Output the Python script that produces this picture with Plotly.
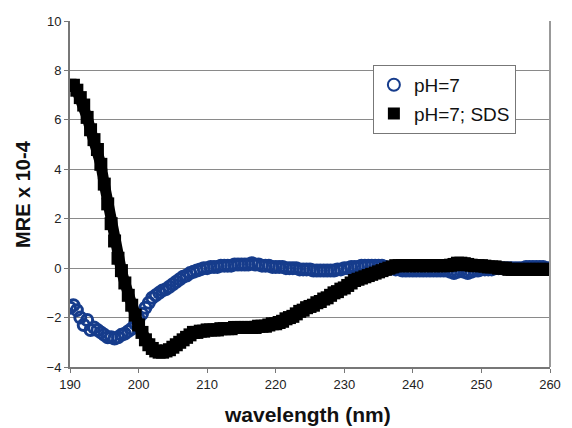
import plotly.graph_objects as go

# wavelength sampling (nm), 0.5 nm steps 190..260
wavelength = [190 + 0.5 * i for i in range(141)]

ph7 = [
    -1.6, -1.5, -1.7, -2.0, -2.3, -2.1, -2.5, -2.4, -2.5, -2.6,
    -2.7, -2.8, -2.8, -2.85, -2.8, -2.7, -2.65, -2.55, -2.45, -2.25,
    -2.05, -1.85, -1.6, -1.4, -1.2, -1.1, -1.0, -0.9, -0.85, -0.75,
    -0.65, -0.55, -0.45, -0.35, -0.3, -0.2, -0.15, -0.1, -0.05, 0.0,
    0.0, 0.05, 0.05, 0.05, 0.1, 0.1, 0.1, 0.1, 0.15, 0.15,
    0.15, 0.15, 0.15, 0.2, 0.15, 0.15, 0.1, 0.1, 0.1, 0.05,
    0.05, 0.05, 0.05, 0.0, 0.0, 0.0, 0.0, -0.05, -0.05, -0.05,
    -0.05, -0.1, -0.1, -0.1, -0.1, -0.1, -0.1, -0.1, -0.05, -0.05,
    0.0, 0.0, 0.05, 0.05, 0.05, 0.1, 0.1, 0.1, 0.1, 0.1,
    0.1, 0.1, 0.05, 0.0, 0.0, -0.05, -0.05, -0.1, -0.1, -0.1,
    -0.1, -0.1, -0.1, -0.1, -0.1, -0.1, -0.1, -0.1, -0.1, -0.1,
    -0.1, -0.15, -0.2, -0.15, -0.1, -0.15, -0.2, -0.15, -0.1, -0.1,
    -0.05, -0.05, -0.05, -0.05, 0.0, 0.0, 0.0, 0.0, 0.0, 0.0,
    0.0, 0.0, 0.0, 0.05, 0.05, 0.05, 0.05, 0.05, 0.05, 0.0,
    0.0,
]

ph7_sds = [
    7.4, 7.4, 7.2, 6.9, 6.6, 6.1, 5.6, 5.2, 4.8, 4.2,
    3.4, 2.6, 1.8, 1.1, 0.4, -0.1, -0.6, -1.1, -1.5, -1.9,
    -2.3, -2.6, -2.9, -3.1, -3.25, -3.35, -3.4, -3.4, -3.35, -3.3,
    -3.2, -3.1, -3.0, -2.9, -2.8, -2.7, -2.6, -2.6, -2.55, -2.55,
    -2.5, -2.5, -2.5, -2.5, -2.45, -2.45, -2.45, -2.45, -2.4, -2.4,
    -2.4, -2.4, -2.4, -2.4, -2.4, -2.35, -2.35, -2.35, -2.3, -2.25,
    -2.25, -2.2, -2.15, -2.05, -2.0, -1.95, -1.85, -1.75, -1.7, -1.6,
    -1.55, -1.5, -1.4, -1.35, -1.25, -1.2, -1.1, -1.0, -0.95, -0.85,
    -0.8, -0.7, -0.6, -0.5, -0.45, -0.4, -0.35, -0.3, -0.25, -0.2,
    -0.15, -0.1, -0.05, 0.0, 0.05, 0.1, 0.1, 0.1, 0.1, 0.1,
    0.1, 0.1, 0.1, 0.1, 0.1, 0.1, 0.1, 0.1, 0.1, 0.1,
    0.1, 0.12, 0.15, 0.2, 0.2, 0.18, 0.15, 0.12, 0.1, 0.1,
    0.1, 0.08, 0.05, 0.05, 0.05, 0.0, 0.0, 0.0, -0.05, -0.05,
    -0.05, -0.05, -0.05, -0.05, -0.05, -0.05, -0.05, -0.05, -0.05, -0.05,
    -0.05,
]

x_ticks = [190, 200, 210, 220, 230, 240, 250, 260]
y_ticks = [-4, -2, 0, 2, 4, 6, 8, 10]

BLUE = "#163c8c"
FONT = "Liberation Sans, Arial, sans-serif"

fig = go.Figure()
fig.add_trace(go.Scatter(
    x=wavelength, y=ph7, mode="markers", name="pH=7", legendgroup="a",
    marker=dict(symbol="circle-open", size=11, color=BLUE, line=dict(width=3, color=BLUE)),
))
fig.add_trace(go.Scatter(
    x=wavelength, y=ph7_sds, mode="lines", showlegend=False, hoverinfo="skip", legendgroup="b",
    line=dict(color="black", width=11),
))
fig.add_trace(go.Scatter(
    x=wavelength, y=ph7_sds, mode="markers", name="pH=7; SDS", legendgroup="b",
    marker=dict(symbol="square", size=13, color="black"),
))

fig.update_layout(
    width=572, height=428,
    margin=dict(l=70, r=11, t=21, b=61),
    paper_bgcolor="white", plot_bgcolor="white",
    font=dict(family=FONT, color="#222"),
    showlegend=True,
    legend=dict(
        x=0.631, y=0.873, xanchor="left", yanchor="top",
        bgcolor="white", bordercolor="#777", borderwidth=1,
        font=dict(size=19, family=FONT, color="#111"),
        itemsizing="constant", tracegroupgap=1,
    ),
    xaxis=dict(
        range=[190, 260], tickvals=x_ticks, showgrid=False, zeroline=False,
        showline=True, linecolor="#777", linewidth=2, mirror=False,
        ticks="outside", ticklen=4, tickcolor="#777", ticklabeloverflow="allow",
        tickfont=dict(size=13, family=FONT, color="#222"),
    ),
    yaxis=dict(
        range=[-4, 10], tickvals=y_ticks, showgrid=True, gridcolor="#8a8a8a", gridwidth=1,
        zeroline=False, showline=True, linecolor="#777", linewidth=2,
        ticks="outside", ticklen=4, tickcolor="#777",
        tickfont=dict(size=13, family=FONT, color="#222"),
    ),
    shapes=[dict(type="line", xref="paper", yref="paper", x0=1, x1=1, y0=0, y1=1,
                 line=dict(color="#999", width=2))],
    annotations=[
        dict(text="<b>MRE x 10-4</b>", xref="paper", yref="paper", x=-0.098, y=0.5,
             textangle=-90, showarrow=False, font=dict(size=20, family=FONT, color="#111"),
             xanchor="center", yanchor="middle"),
        dict(text="<b>wavelength (nm)</b>", xref="paper", yref="paper", x=0.495, y=-0.138,
             showarrow=False, font=dict(size=21, family=FONT, color="#111"),
             xanchor="center", yanchor="middle"),
    ],
)

post = (
    "var h=document.documentElement, b=document.body;"
    "h.style.margin='0'; b.style.margin='0';"
    "h.style.overflow='hidden'; b.style.overflow='hidden';"
    "h.style.height='428px'; b.style.height='428px';"
    "var d=document.querySelector('.plotly-graph-div');"
    "if(d){d.style.display='block'; var p=d.parentElement;"
    "p.style.lineHeight='0'; p.style.height='428px'; p.style.width='572px'; p.style.overflow='hidden';}"
)
fig.write_html("out.html", post_script=post,
               config={"displayModeBar": False, "responsive": False})
